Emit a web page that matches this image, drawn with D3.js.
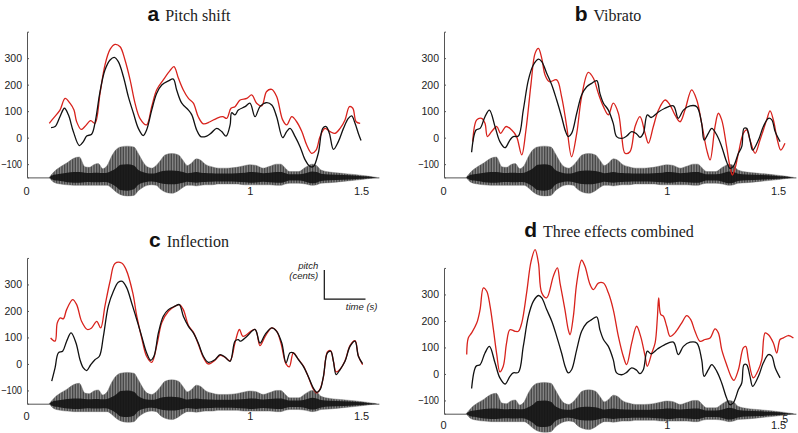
<!DOCTYPE html>
<html><head><meta charset="utf-8">
<script src="https://cdn.jsdelivr.net/npm/d3@7"></script>
<style>body{margin:0;background:#fff}svg{display:block}</style>
</head><body>
<svg id="chart" width="798" height="433"></svg>
<script>
// ---------- data ----------
const yTicks = [-100, 0, 100, 200, 300];
const xTicks = [0, 1, 1.5];
const panelLetters = ["a", "b", "c", "d"];
const panelTitles = ["Pitch shift", "Vibrato", "Inflection", "Three effects combined"];

// original pitch contour (cents) as drawn in panels b and d
const origTime = [0.124,0.144,0.162,0.184,0.204,0.229,0.251,0.274,0.296,0.311,0.334,0.356,0.379,0.401,0.424,0.439,0.461,0.484,0.506,0.528,0.546,0.558,0.573,0.596,0.618,0.641,0.663,0.686,0.700,0.716,0.738,0.760,0.775,0.798,0.820,0.843,0.865,0.880,0.895,0.913,0.930,0.960,0.990,1.030,1.052,1.075,1.105,1.135,1.157,1.168,1.187,1.202,1.225,1.247,1.269,1.284,1.299,1.322,1.337,1.347,1.359,1.374,1.386,1.412,1.434,1.457,1.472,1.487,1.509];
const origPitch = [-55,29,35,79,104,42,-15,-38,-9,4,6,104,218,274,296,287,243,199,142,79,23,4,16,92,161,192,205,215,167,130,104,54,4,-3,6,23,14,1,16,86,76,95,110,120,73,104,120,117,54,-9,16,35,10,-34,-91,-116,-109,-59,-34,35,35,-9,-47,-9,42,73,67,23,-15];

// original contour as drawn in panel a
const origTimeA = [0.108,0.126,0.148,0.168,0.186,0.208,0.235,0.253,0.268,0.290,0.305,0.328,0.350,0.373,0.392,0.410,0.433,0.455,0.478,0.500,0.522,0.537,0.560,0.582,0.605,0.635,0.657,0.672,0.695,0.725,0.740,0.762,0.780,0.807,0.829,0.852,0.874,0.894,0.912,0.919,0.934,0.949,0.979,1.001,1.024,1.046,1.076,1.099,1.121,1.148,1.166,1.181,1.204,1.226,1.249,1.271,1.286,1.308,1.328,1.343,1.358,1.376,1.398,1.421,1.443,1.458,1.473,1.488,1.500];
const origPitchA = [38,42,79,111,86,23,-30,-15,6,13,54,174,255,293,303,287,230,155,92,35,8,29,104,167,199,214,221,180,130,104,86,29,4,6,19,35,23,6,48,94,86,104,117,130,79,117,132,123,79,0,23,35,4,-34,-84,-109,-109,-59,35,42,16,-44,-15,35,73,82,54,16,-11];

// pitch-shifted contour (panel a)
const shiftTime = [0.100,0.118,0.148,0.171,0.193,0.211,0.223,0.243,0.260,0.286,0.305,0.328,0.350,0.373,0.395,0.418,0.440,0.463,0.485,0.507,0.537,0.560,0.582,0.612,0.642,0.660,0.680,0.702,0.725,0.747,0.769,0.792,0.822,0.852,0.879,0.897,0.916,0.934,0.957,0.987,1.009,1.031,1.054,1.076,1.099,1.121,1.148,1.166,1.189,1.211,1.234,1.256,1.278,1.298,1.316,1.338,1.361,1.383,1.406,1.428,1.448,1.463,1.478,1.496];
const shiftPitch = [54,73,104,148,130,104,60,31,42,64,54,167,274,333,352,343,293,218,130,73,48,117,180,218,253,268,224,180,148,130,79,52,60,73,79,73,111,117,142,148,161,130,120,174,182,155,67,48,79,60,23,-28,-59,-47,4,35,23,16,35,67,117,111,60,54];

// vibrato contour (panel b)
const vibTime = [0.129,0.147,0.169,0.184,0.195,0.214,0.237,0.254,0.278,0.304,0.326,0.349,0.368,0.391,0.409,0.424,0.439,0.454,0.473,0.506,0.528,0.551,0.573,0.596,0.618,0.648,0.671,0.693,0.716,0.738,0.760,0.783,0.798,0.813,0.835,0.858,0.880,0.903,0.918,0.940,0.963,0.993,1.015,1.037,1.060,1.082,1.112,1.135,1.157,1.180,1.195,1.217,1.232,1.247,1.269,1.284,1.295,1.307,1.322,1.344,1.359,1.374,1.397,1.419,1.449,1.464,1.479,1.497,1.512,1.531];
const vibPitch = [-15,67,73,54,4,23,42,16,42,29,4,-65,29,205,318,337,299,236,211,218,155,42,-72,16,155,246,224,167,117,86,130,92,4,-59,-53,42,79,16,-21,42,104,142,123,86,60,104,180,142,54,-47,-84,42,92,67,-34,-109,-141,-116,-59,16,29,-9,-59,-9,67,101,67,-9,-47,-21];

// original contour as drawn in panel c
const origTimeC = [0.111,0.126,0.141,0.160,0.178,0.198,0.220,0.238,0.253,0.268,0.286,0.305,0.325,0.343,0.365,0.388,0.410,0.428,0.448,0.470,0.493,0.515,0.537,0.555,0.570,0.590,0.612,0.635,0.665,0.684,0.702,0.725,0.747,0.769,0.792,0.814,0.844,0.867,0.889,0.912,0.934,0.949,0.957,0.987,1.024,1.046,1.069,1.099,1.121,1.144,1.163,1.181,1.196,1.219,1.241,1.263,1.286,1.301,1.316,1.331,1.349,1.364,1.376,1.388,1.406,1.428,1.451,1.473,1.488,1.507];
const origPitchC = [-65,-15,42,48,86,117,79,16,-15,-25,-3,16,29,104,218,274,308,312,287,230,167,104,42,14,29,117,180,205,218,224,180,142,117,79,29,6,16,35,26,10,86,92,86,104,130,79,111,136,123,79,4,42,42,16,-9,-47,-91,-107,-97,-47,42,48,10,-40,-21,10,67,86,29,1];

// inflection contour (panel c)
const inflTime = [0.106,0.126,0.136,0.150,0.163,0.178,0.205,0.223,0.245,0.271,0.290,0.313,0.331,0.350,0.373,0.395,0.425,0.445,0.475,0.493,0.515,0.537,0.560,0.585,0.605,0.635,0.665,0.684,0.702,0.725,0.747,0.769,0.792,0.814,0.844,0.867,0.889,0.912,0.934,0.954,0.970,1.024,1.046,1.070,1.099,1.120,1.140,1.163,1.178,1.196,1.220,1.242,1.264,1.286,1.301,1.316,1.331,1.349,1.363,1.376,1.388,1.406,1.428,1.451,1.473,1.488,1.507];
const inflPitch = [98,86,155,174,170,205,243,224,161,130,136,161,136,218,312,379,381,356,268,180,98,29,6,79,155,199,218,224,205,145,120,75,25,0,14,32,25,12,80,130,104,130,69,105,136,125,80,0,-11,42,16,-9,-50,-95,-109,-95,-50,45,50,10,-30,-20,12,70,88,30,-3];

// combined effects contour (panel d)
const combTime = [0.102,0.109,0.124,0.147,0.162,0.177,0.192,0.207,0.222,0.237,0.251,0.266,0.281,0.296,0.319,0.334,0.349,0.371,0.391,0.409,0.424,0.439,0.461,0.491,0.509,0.521,0.543,0.558,0.566,0.581,0.596,0.618,0.633,0.656,0.671,0.693,0.716,0.738,0.760,0.783,0.805,0.820,0.843,0.865,0.883,0.903,0.913,0.933,0.948,0.958,0.964,0.973,0.985,1.000,1.015,1.037,1.067,1.090,1.108,1.127,1.150,1.172,1.195,1.217,1.232,1.247,1.269,1.292,1.302,1.322,1.344,1.355,1.367,1.389,1.412,1.427,1.442,1.457,1.479,1.494,1.509,1.524,1.546,1.569];
const combPitch = [73,136,155,192,243,325,312,255,167,73,8,29,117,167,161,161,192,306,425,469,419,306,287,369,400,343,243,167,148,218,343,429,406,337,318,343,343,306,243,142,67,35,117,180,142,67,29,79,117,211,287,225,218,180,142,155,192,220,205,161,123,130,136,170,155,92,35,-15,-24,16,98,104,54,-15,16,54,155,148,117,79,130,136,145,136];

// audio waveform envelope (cents above / below the -150 baseline)
const waveTime   = [0.10,0.12,0.15,0.18,0.21,0.235,0.26,0.28,0.30,0.32,0.34,0.36,0.38,0.40,0.42,0.45,0.48,0.50,0.52,0.54,0.56,0.58,0.60,0.62,0.65,0.68,0.70,0.72,0.74,0.76,0.78,0.80,0.83,0.86,0.90,0.94,0.98,1.00,1.03,1.06,1.09,1.12,1.14,1.16,1.18,1.22,1.25,1.28,1.30,1.32,1.36,1.42,1.48,1.53,1.57];
const waveTop    = [0,20,40,55,72,77,40,38,48,52,33,45,80,105,115,118,115,90,60,40,35,45,65,85,90,85,65,45,55,70,65,50,40,35,35,38,45,48,45,35,42,50,50,35,22,22,38,50,45,28,20,15,10,5,0];
const waveBottom = [0,18,25,28,30,30,30,30,30,30,30,30,40,55,65,70,68,50,38,30,28,30,45,55,60,50,38,30,30,32,30,28,28,25,25,25,28,28,28,28,28,30,30,25,22,22,25,30,28,22,20,15,10,5,0];
const waveCore   = [0,10,14,18,20,20,18,17,18,18,17,18,25,35,48,50,45,28,20,16,15,17,22,25,26,24,20,16,18,20,18,17,16,15,15,16,18,20,19,16,18,20,20,16,12,12,16,22,20,14,11,9,6,3,0];

// scale bar annotation (panel c), in data units
const barTime = [1.335, 1.52];
const barPitch = [245, 355];

// ---------- layout ----------
const panels = [
  {left: 27,  bottom: 177.4, titleX: 189, titleY: 20.5, ot: origTimeA, ov: origPitchA, mt: shiftTime, mv: shiftPitch, labelGap: 10},
  {left: 444, bottom: 177.4, titleX: 608, titleY: 20.5, ot: origTime,  ov: origPitch,  mt: vibTime,   mv: vibPitch,   labelGap: 10},
  {left: 27,  bottom: 403.7, titleX: 189, titleY: 246.5, ot: origTimeC, ov: origPitchC, mt: inflTime, mv: inflPitch,  labelGap: 9},
  {left: 444, bottom: 413.7, titleX: 609, titleY: 236.5, ot: origTime,  ov: origPitch,  mt: combTime, mv: combPitch,  labelGap: 8}
];
const pxPerSec = 222.7, pxPerCent = 0.265;
const tMax = 1.58, vMin = -150, vMax = 400;
const sans = "Liberation Sans, Arial, Helvetica, sans-serif";

const svg = d3.select("#chart");
const defs = svg.append("defs");
const pat = defs.append("pattern").attr("id","wavepat").attr("patternUnits","userSpaceOnUse")
  .attr("width",1.6).attr("height",4);
pat.append("rect").attr("width",1.6).attr("height",4).attr("fill","#8e8e8e");
pat.append("rect").attr("width",0.8).attr("height",4).attr("fill","#3e3e3e");

const fmt = d => d < 0 ? "\u2212" + Math.abs(d) : String(d);

panels.forEach((p, i) => {
  const x = d3.scaleLinear().domain([0, tMax]).range([p.left, p.left + tMax * pxPerSec]);
  const y = d3.scaleLinear().domain([vMin, vMax]).range([p.bottom, p.bottom - (vMax - vMin) * pxPerCent]);
  const g = svg.append("g");

  // title
  const title = g.append("text").attr("x", p.titleX).attr("y", p.titleY).attr("text-anchor","middle");
  title.append("tspan").attr("font-family", sans).attr("font-weight","bold")
    .attr("font-size", 21).attr("fill","#111").text(panelLetters[i]);
  title.append("tspan").attr("font-family","Liberation Serif, Times New Roman, serif")
    .attr("font-size", 16).attr("fill","#222").attr("dx", 6).text(panelTitles[i]);

  // x axis
  const xa = g.append("g").attr("transform", `translate(0,${y(vMin)})`)
    .call(d3.axisBottom(x).tickValues(xTicks).tickSize(0).tickPadding(p.labelGap).tickFormat(d3.format("")));
  xa.select(".domain").attr("stroke","#555").attr("stroke-width",1);
  xa.selectAll("text").attr("font-family", sans).attr("font-size",11).attr("fill","#222");
  xa.selectAll(".tick").filter(d => d === 0).select("text").attr("dx", -1);

  // waveform
  const wave = waveTime.map((t, k) => ({t, top: waveTop[k], bot: waveBottom[k], core: waveCore[k]}));
  g.append("path").datum(wave)
    .attr("d", d3.area().x(d => x(d.t)).y0(d => y(vMin - d.bot)).y1(d => y(vMin + d.top)).curve(d3.curveMonotoneX))
    .attr("fill","url(#wavepat)").attr("stroke","#666").attr("stroke-width",0.4);
  g.append("path").datum(wave)
    .attr("d", d3.area().x(d => x(d.t)).y0(d => y(vMin - d.core)).y1(d => y(vMin + d.core)).curve(d3.curveMonotoneX))
    .attr("fill","#151515").attr("opacity",0.92);

  // y axis
  const ya = g.append("g").attr("transform", `translate(${p.left},0)`)
    .call(d3.axisLeft(y).tickValues(yTicks).tickSizeInner(-2).tickSizeOuter(-2).tickPadding(5).tickFormat(fmt));
  ya.select(".domain").attr("stroke","#555").attr("stroke-width",1);
  ya.selectAll(".tick line").attr("stroke","#555");
  ya.selectAll("text").attr("font-family", sans).attr("font-size",10.5).attr("fill","#222");
  ya.selectAll(".tick").filter(d => d < 0).select("text")
    .attr("textLength", 21).attr("lengthAdjust","spacingAndGlyphs");

  const line = d3.line().x(d => x(d[0])).y(d => y(d[1])).curve(d3.curveCatmullRom.alpha(0.5));
  g.append("path").datum(p.mt.map((t, k) => [t, p.mv[k]]))
    .attr("d", line).attr("fill","none").attr("stroke","#d8221c").attr("stroke-width",1.3);
  g.append("path").datum(p.ot.map((t, k) => [t, p.ov[k]]))
    .attr("d", line).attr("fill","none").attr("stroke","#111").attr("stroke-width",1.3);

  if (i === 2) {
    const sb = g.append("g");
    sb.append("path")
      .attr("d", `M${x(barTime[0])},${y(barPitch[1])}V${y(barPitch[0])}H${x(barTime[1])}`)
      .attr("fill","none").attr("stroke","#111").attr("stroke-width",1.2);
    sb.append("text").attr("x", x(barTime[0]) - 6).attr("y", y(barPitch[1]) - 1).attr("text-anchor","end")
      .attr("font-family", sans).attr("font-style","italic").attr("font-size",9.5).attr("fill","#222").text("pitch");
    sb.append("text").attr("x", x(barTime[0]) - 6).attr("y", y(barPitch[1]) + 9.5).attr("text-anchor","end")
      .attr("font-family", sans).attr("font-style","italic").attr("font-size",9.5).attr("fill","#222").text("(cents)");
    sb.append("text").attr("x", x(barTime[1]) + 12).attr("y", y(barPitch[0]) + 11).attr("text-anchor","end")
      .attr("font-family", sans).attr("font-style","italic").attr("font-size",9.5).attr("fill","#222").text("time (s)");
  }
  if (i === 3) {
    // stray overprinted digit above the 1.5 label in the original
    g.append("text").attr("x", x(1.5) + 7).attr("y", y(vMin) + 9.5).attr("text-anchor","middle")
      .attr("font-family", sans).attr("font-size",10.5).attr("fill","#222").text("5");
  }
});
</script>
</body></html>
